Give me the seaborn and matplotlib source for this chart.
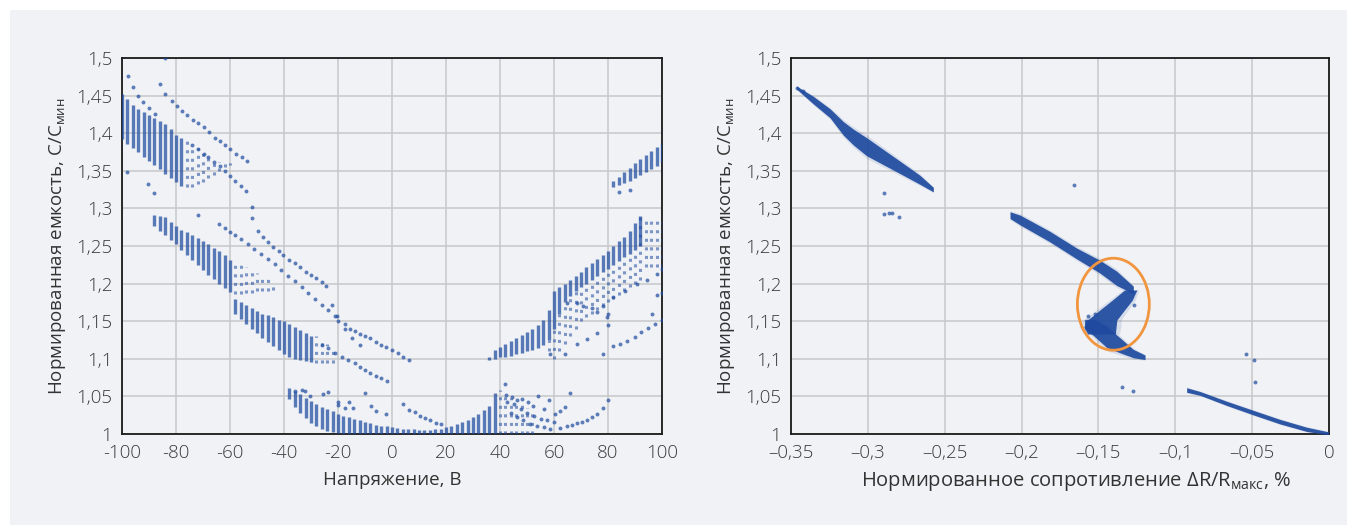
import matplotlib
matplotlib.use("Agg")
from matplotlib import pyplot as plt
from matplotlib.patches import Ellipse, Rectangle
import seaborn as sns
import numpy as np

# ---------------- left panel: C/Cmin vs voltage ----------------
# dense columns of points (voltage, lower and upper edge of the column)
a_v = [-100, -98, -96, -94, -92, -90, -88, -86, -84, -82, -80, -78]
a_lo = [1.392, 1.386, 1.380, 1.375, 1.369, 1.363, 1.358, 1.352, 1.346, 1.341, 1.335, 1.330]
a_hi = [1.452, 1.445, 1.438, 1.432, 1.428, 1.424, 1.420, 1.416, 1.412, 1.405, 1.398, 1.393]
as_v = [-76, -74, -72, -70, -68, -66, -64, -62, -60]
as_lo = [1.329, 1.329, 1.332, 1.335, 1.340, 1.345, 1.350, 1.355, 1.358]
as_hi = [1.390, 1.385, 1.380, 1.375, 1.370, 1.365, 1.362, 1.362, 1.360]

b_v = [-88, -86, -84, -82, -80, -78, -76, -74, -72, -70, -68, -66, -64, -62, -60]
b_lo = [1.276, 1.270, 1.264, 1.258, 1.252, 1.245, 1.238, 1.232, 1.225, 1.218, 1.212, 1.206, 1.200, 1.194, 1.189]
b_hi = [1.291, 1.290, 1.288, 1.282, 1.276, 1.271, 1.268, 1.264, 1.260, 1.256, 1.252, 1.248, 1.244, 1.238, 1.232]
bs_v = [-58, -56, -54, -52, -50, -48, -46, -44]
bs_lo = [1.186, 1.186, 1.187, 1.188, 1.190, 1.190, 1.190, 1.192]
bs_hi = [1.232, 1.228, 1.222, 1.218, 1.214, 1.210, 1.206, 1.200]

c_v = [-58, -56, -54, -52, -50, -48, -46, -44, -42, -40, -38, -36, -34, -32, -30]
c_lo = [1.160, 1.153, 1.146, 1.140, 1.134, 1.128, 1.122, 1.117, 1.112, 1.107, 1.103, 1.100, 1.098, 1.097, 1.096]
c_hi = [1.180, 1.176, 1.172, 1.168, 1.164, 1.160, 1.158, 1.155, 1.152, 1.150, 1.146, 1.142, 1.138, 1.134, 1.130]
cs_v = [-28, -26, -24, -22]
cs_lo = [1.095, 1.095, 1.095, 1.094]
cs_hi = [1.130, 1.125, 1.120, 1.115]

d_v = [-38, -36, -34, -32, -30, -28, -26, -24, -22, -20, -18, -16, -14, -12, -10,
       -8, -6, -4, -2, 0, 2, 4, 6, 8, 10, 12, 14, 16, 18]
d_lo = [1.046, 1.036, 1.028, 1.021, 1.015, 1.011, 1.007, 1.004, 1.002, 1.001, 1.000, 1.000, 1.000, 1.000, 1.000,
        1.000, 1.000, 1.000, 1.000, 1.000, 1.000, 1.000, 1.000, 1.000, 1.000, 1.000, 1.000, 1.000, 1.000]
d_hi = [1.061, 1.057, 1.053, 1.048, 1.044, 1.040, 1.036, 1.033, 1.030, 1.027, 1.024, 1.022, 1.020, 1.018, 1.016,
        1.014, 1.012, 1.011, 1.010, 1.009, 1.008, 1.007, 1.006, 1.006, 1.005, 1.005, 1.005, 1.006, 1.007]

e_v = [20, 22, 24, 26, 28, 30, 32, 34, 36, 38]
e_lo = [1.000, 1.000, 1.000, 1.000, 1.000, 1.000, 1.000, 1.000, 1.000, 1.000]
e_hi = [1.009, 1.011, 1.013, 1.016, 1.019, 1.023, 1.027, 1.032, 1.037, 1.054]
es_v = [40, 42, 44, 46, 48, 50, 52]
es_lo = [1.000, 1.000, 1.000, 1.000, 1.000, 1.000, 1.000]
es_hi = [1.058, 1.050, 1.048, 1.045, 1.040, 1.035, 1.030]

f_v = [36, 38, 40, 42, 44, 46, 48, 50, 52, 54, 56, 58, 60, 62, 64,
       66, 68, 70, 72, 74, 76, 78, 80, 82, 84, 86, 88, 90, 92]
f_lo = [1.098, 1.100, 1.102, 1.103, 1.104, 1.106, 1.108, 1.110, 1.112, 1.115, 1.118, 1.125, 1.140, 1.160, 1.175,
        1.183, 1.190, 1.196, 1.200, 1.205, 1.210, 1.215, 1.220, 1.225, 1.230, 1.235, 1.240, 1.245, 1.250]
f_hi = [1.103, 1.112, 1.116, 1.120, 1.124, 1.128, 1.132, 1.136, 1.140, 1.145, 1.152, 1.165, 1.190, 1.195, 1.200,
        1.205, 1.210, 1.216, 1.222, 1.227, 1.233, 1.238, 1.244, 1.250, 1.256, 1.262, 1.270, 1.280, 1.290]
fs_v = [58, 60, 62, 64, 66, 68, 70, 72, 74, 76, 78, 80, 82, 84, 86, 88, 90, 92, 94, 96, 98, 100]
fs_lo = [1.110, 1.100, 1.110, 1.120, 1.130, 1.140, 1.150, 1.155, 1.160, 1.165, 1.170, 1.175, 1.180, 1.185,
         1.190, 1.195, 1.200, 1.205, 1.222, 1.222, 1.222, 1.222]
fs_hi = [1.125, 1.140, 1.160, 1.175, 1.183, 1.190, 1.196, 1.200, 1.205, 1.210, 1.215, 1.220, 1.225, 1.230,
         1.235, 1.240, 1.245, 1.290, 1.285, 1.285, 1.285, 1.285]

h_v = [82, 84, 86, 88, 90, 92, 94, 96, 98, 100]
h_lo = [1.328, 1.331, 1.334, 1.337, 1.340, 1.344, 1.348, 1.352, 1.357, 1.362]
h_hi = [1.337, 1.342, 1.348, 1.354, 1.360, 1.366, 1.371, 1.376, 1.381, 1.387]

# single dotted trails (voltage, C/Cmin)
t1_v = [-85.9, -84.1, -81.6, -79.7, -77.8, -75.9, -73.7, -71.9, -69.8, -67.7, -65.7, -63.6, -61.7, -59.9,
        -57.8, -55.6, -53.7]
t1_c = [1.465, 1.452, 1.443, 1.436, 1.430, 1.424, 1.418, 1.413, 1.408, 1.401, 1.394, 1.389, 1.384, 1.379,
        1.373, 1.368, 1.363]
t2_v = [-97.9, -95.8, -94.0, -92.1, -89.9, -87.8, -84.1, -98.3, -88.0, -90.3]
t2_c = [1.476, 1.461, 1.449, 1.441, 1.433, 1.425, 1.500, 1.349, 1.321, 1.333]
t3_v = [-74.2, -71.7, -69.8, -68.0, -65.9, -63.6, -61.7, -59.9, -58.0, -55.8, -54.0, -52.0, -52.0, -49.7,
        -47.9, -46.0, -43.9, -42.0, -40.3, -38.1, -36.0, -34.0, -32.0, -29.9, -28.1, -26.1, -24.3, -22.4,
        -20.3, -17.4, -15.6, -13.7, -11.9, -10.0, -8.2, -6.0, -3.9, -2.1, 0.1, 2.2, 4.1, 6.3]
t3_c = [1.384, 1.379, 1.373, 1.368, 1.362, 1.356, 1.350, 1.343, 1.337, 1.330, 1.323, 1.302, 1.287, 1.270,
        1.262, 1.255, 1.249, 1.244, 1.238, 1.231, 1.227, 1.222, 1.216, 1.212, 1.208, 1.202, 1.197, 1.171,
        1.157, 1.146, 1.140, 1.137, 1.133, 1.130, 1.127, 1.122, 1.119, 1.116, 1.112, 1.108, 1.103, 1.098]
t4_v = [-71.7, -64.1, -61.9, -60.1, -58.0, -55.8, -53.5, -51.0, -48.5, -46.0, -43.5, -41.0, -38.5, -36.0,
        -33.5, -31.0, -28.5, -26.0, -23.6, -21.1, -19.9, -17.4, -15.0, -12.0]
t4_c = [1.291, 1.279, 1.274, 1.268, 1.264, 1.259, 1.253, 1.246, 1.240, 1.233, 1.226, 1.218, 1.210, 1.203,
        1.195, 1.188, 1.180, 1.172, 1.165, 1.157, 1.150, 1.140, 1.128, 1.118]
t5_v = [-26.0, -23.6, -21.1, -18.6, -16.2, -13.7, -11.9, -10.0, -8.0, -5.8, -3.9, -1.7]
t5_c = [1.118, 1.114, 1.108, 1.103, 1.099, 1.094, 1.089, 1.085, 1.081, 1.077, 1.074, 1.070]
t6_v = [-36.0, -33.5, -32.2, -30.4, -25.4, -23.8, -19.9, -16.0, -10.0, -19.9, -17.4, -14.4, -7.6, -5.8, -2.1]
t6_c = [1.057, 1.058, 1.057, 1.050, 1.053, 1.056, 1.043, 1.043, 1.055, 1.038, 1.035, 1.035, 1.037, 1.031, 1.026]
t7_v = [4.1, 6.3, 8.4, 10.2, 12.1, 13.9, 16.4, 18.3]
t7_c = [1.040, 1.032, 1.029, 1.024, 1.021, 1.018, 1.015, 1.013]
fan1_v = [42.2, 44.3, 46.2, 48.3, 50.4, 52.2, 56.3, 60.4]
fan1_c = [1.052, 1.049, 1.045, 1.046, 1.042, 1.037, 1.033, 1.027]
fan2_v = [42.6, 45.1, 47.6, 50.0, 52.5, 55.0, 57.5, 60.0]
fan2_c = [1.043, 1.040, 1.033, 1.028, 1.024, 1.020, 1.018, 1.016]
fan3_v = [44.0, 46.2, 48.7, 51.2, 53.7, 56.2, 58.6]
fan3_c = [1.028, 1.022, 1.018, 1.013, 1.011, 1.009, 1.007]
fan4_v = [41.9, 54.2, 58.3, 62.3, 64.0, 65.9]
fan4_c = [1.067, 1.050, 1.045, 1.030, 1.036, 1.055]
rise_v = [62.2, 64.7, 66.5, 68.4, 70.2, 72.1, 74.0, 75.8, 78.3, 80.1]
rise_c = [1.0075, 1.010, 1.012, 1.014, 1.016, 1.019, 1.023, 1.027, 1.034, 1.045]
fg1_v = [78.3, 82.0, 84.4, 86.9, 90.0, 92.4, 94.9, 97.4, 99.9]
fg1_c = [1.107, 1.117, 1.120, 1.124, 1.129, 1.136, 1.141, 1.146, 1.152]
fg2_v = [58.4, 64.1, 68.4, 72.1, 75.8, 80.1, 79.5]
fg2_c = [1.107, 1.107, 1.120, 1.126, 1.134, 1.145, 1.156]
fg3_v = [82.0, 86.3, 90.6, 94.3, 98.0, 99.9, 98.0, 99.9, 96.2]
fg3_c = [1.182, 1.190, 1.200, 1.205, 1.213, 1.220, 1.185, 1.188, 1.160]
fg4_v = [64.7, 68.4, 70.9, 74.0, 75.8, 78.3, 80.1, 84.0, 88.0]
fg4_c = [1.174, 1.174, 1.170, 1.168, 1.162, 1.170, 1.160, 1.322, 1.325]

# ---------------- right panel: C/Cmin vs dR/Rmax ----------------
# band centre lines with their vertical half-spread
r1_x = [-0.3463, -0.3355, -0.3246, -0.3160, -0.3095, -0.3008, -0.2921, -0.2834, -0.2747, -0.2661, -0.2574]
r1_y = [1.4605, 1.4440, 1.4265, 1.4065, 1.3950, 1.3820, 1.3710, 1.3600, 1.3490, 1.3380, 1.3250]
r1_s = [0.002, 0.005, 0.006, 0.009, 0.0105, 0.012, 0.0105, 0.009, 0.0075, 0.006, 0.003]
r2_x = [-0.2075, -0.2010, -0.1815, -0.1641, -0.1490, -0.1381, -0.1273]
r2_y = [1.2910, 1.2846, 1.2624, 1.2400, 1.2225, 1.2070, 1.1915]
r2_s = [0.0045, 0.0065, 0.007, 0.0072, 0.0085, 0.0095, 0.005]
# hook going back (horizontal half-spread)
hook_y = [1.1915, 1.1780, 1.1650, 1.1516, 1.1427, 1.1330]
hook_x = [-0.1290, -0.1345, -0.1410, -0.1475, -0.1490, -0.1480]
hook_s = [0.004, 0.0065, 0.008, 0.0095, 0.0105, 0.009]
r2c_x = [-0.1590, -0.1533, -0.1446, -0.1360, -0.1273, -0.1197]
r2c_y = [1.1460, 1.1420, 1.1290, 1.1180, 1.1070, 1.1020]
r2c_s = [0.006, 0.011, 0.014, 0.010, 0.0055, 0.003]
r3_x = [-0.0926, -0.0839, -0.0665, -0.0492, -0.0319, -0.0145, -0.0004]
r3_y = [1.0585, 1.0540, 1.0407, 1.0284, 1.0164, 1.0062, 1.0009]
r3_s = [0.003, 0.0025, 0.0028, 0.003, 0.003, 0.0028, 0.002]
iso_x = [-0.3463, -0.3420, -0.2895, -0.2895, -0.2865, -0.2840, -0.2797, -0.1659, -0.1565, -0.1522,
         -0.1268, -0.1349, -0.1278, -0.0540, -0.0488, -0.0481]
iso_y = [1.4605, 1.4560, 1.3210, 1.2930, 1.2940, 1.2940, 1.2890, 1.3310, 1.1570, 1.1600,
         1.1710, 1.0630, 1.0576, 1.1060, 1.0990, 1.0695]

# ticks
y_ticks = [1.0, 1.05, 1.1, 1.15, 1.2, 1.25, 1.3, 1.35, 1.4, 1.45, 1.5]
y_labels = ['1', '1,05', '1,1', '1,15', '1,2', '1,25', '1,3', '1,35', '1,4', '1,45', '1,5']
v_ticks = [-100, -80, -60, -40, -20, 0, 20, 40, 60, 80, 100]
v_labels = ['-100', '-80', '-60', '-40', '-20', '0', '20', '40', '60', '80', '100']
r_ticks = [-0.35, -0.3, -0.25, -0.2, -0.15, -0.1, -0.05, 0.0]
r_labels = ['–0,35', '–0,3', '–0,25', '–0,2', '–0,15', '–0,1', '–0,05', '0']

BLUE = '#1e4a9f'
BG = '#f0f2f5'
HOOK_MARK = (-0.1403, 1.1726, 0.0468, 0.1223)

sns.set_style('whitegrid', {'axes.facecolor': BG, 'grid.color': '#c6c7c9',
                            'axes.edgecolor': '#1a1a1a'})
plt.rcParams['font.family'] = ['Open Sans', 'DejaVu Sans']
plt.rcParams['font.weight'] = 'light'
plt.rcParams['text.color'] = '#333333'


def columns(ax, v, lo, hi, dense=True):
    if dense:
        ax.vlines(v, lo, hi, colors=BLUE, lw=2.4, alpha=0.72, zorder=3)
    else:
        ax.vlines(v, lo, hi, colors=BLUE, lw=2.2, alpha=0.55,
                  linestyles=(0, (1.0, 1.8)), zorder=3)


def trail(ax, v, c):
    sns.scatterplot(x=v, y=c, ax=ax, color=BLUE, s=8, alpha=0.7,
                    linewidth=0, zorder=4, legend=False)


def band(ax, x, y, s):
    x, y, s = np.array(x), np.array(y), np.array(s)
    ax.fill_between(x, y - 1.3 * s, y + 1.3 * s, color=BLUE, alpha=0.12, lw=0, zorder=3)
    ax.fill_between(x, y - s, y + s, color=BLUE, alpha=0.92, lw=0, zorder=3)


def band_x(ax, x, y, s):
    x, y, s = np.array(x), np.array(y), np.array(s)
    ax.fill_betweenx(y, x - 1.3 * s, x + 1.3 * s, color=BLUE, alpha=0.12, lw=0, zorder=3)
    ax.fill_betweenx(y, x - s, x + s, color=BLUE, alpha=0.92, lw=0, zorder=3)


def style(ax, xticks, xlabels, xlim):
    ax.set_xlim(*xlim)
    ax.set_ylim(1.0, 1.5)
    ax.set_xticks(xticks, xlabels)
    ax.set_yticks(y_ticks, y_labels)
    ax.grid(True, color='#c6c7c9', lw=1.1)
    ax.tick_params(direction='in', length=5, width=1.3, colors='#1a1a1a',
                   labelsize=13.5, labelcolor='#3a3a3a', pad=7)
    for sp in ax.spines.values():
        sp.set_visible(True)
        sp.set_linewidth(1.3)
        sp.set_color('#1a1a1a')
    ax.set_ylabel('Нормированная емкость, C/C$_\\mathregular{мин}$', fontsize=13.5,
                  color='#333333', labelpad=6)


fig = plt.figure(figsize=(13.57, 5.26), dpi=100)
fig.patch.set_facecolor('white')
fig.patches.append(Rectangle((10 / 1357, 1 / 526), 1337 / 1357, 515 / 526,
                             transform=fig.transFigure, facecolor=BG, lw=0, zorder=-10))

ax1 = fig.add_axes([122 / 1357, 92 / 526, 540 / 1357, 376 / 526])
ax2 = fig.add_axes([791 / 1357, 92 / 526, 538 / 1357, 376 / 526])

for v, lo, hi in [(a_v, a_lo, a_hi), (b_v, b_lo, b_hi), (c_v, c_lo, c_hi), (d_v, d_lo, d_hi),
                  (e_v, e_lo, e_hi), (f_v, f_lo, f_hi), (h_v, h_lo, h_hi)]:
    columns(ax1, v, lo, hi)
for v, lo, hi in [(as_v, as_lo, as_hi), (bs_v, bs_lo, bs_hi), (cs_v, cs_lo, cs_hi),
                  (es_v, es_lo, es_hi), (fs_v, fs_lo, fs_hi)]:
    columns(ax1, v, lo, hi, dense=False)
for v, c in [(t1_v, t1_c), (t2_v, t2_c), (t3_v, t3_c), (t4_v, t4_c), (t5_v, t5_c), (t6_v, t6_c),
             (t7_v, t7_c), (fan1_v, fan1_c), (fan2_v, fan2_c), (fan3_v, fan3_c), (fan4_v, fan4_c),
             (rise_v, rise_c), (fg1_v, fg1_c), (fg2_v, fg2_c), (fg3_v, fg3_c), (fg4_v, fg4_c)]:
    trail(ax1, v, c)

style(ax1, v_ticks, v_labels, (-100, 100))
ax1.set_xlabel('Напряжение, В', fontsize=13.5, color='#333333', labelpad=7)

band(ax2, r1_x, r1_y, r1_s)
band(ax2, r2_x, r2_y, r2_s)
band_x(ax2, hook_x, hook_y, hook_s)
band(ax2, r2c_x, r2c_y, r2c_s)
band(ax2, r3_x, r3_y, r3_s)
trail(ax2, iso_x, iso_y)
ax2.add_patch(Ellipse(HOOK_MARK[:2], HOOK_MARK[2], HOOK_MARK[3], fill=False,
                      edgecolor='#f2953f', lw=2, zorder=5))

style(ax2, r_ticks, r_labels, (-0.35, 0.0))
ax2.set_xlabel('Нормированное сопротивление ΔR/R$_\\mathregular{макс}$, %', fontsize=14.5,
               color='#333333', labelpad=6)
ax2.xaxis.set_label_coords(0.53, -0.097)

fig.savefig('out.png', dpi=100, facecolor='white')
